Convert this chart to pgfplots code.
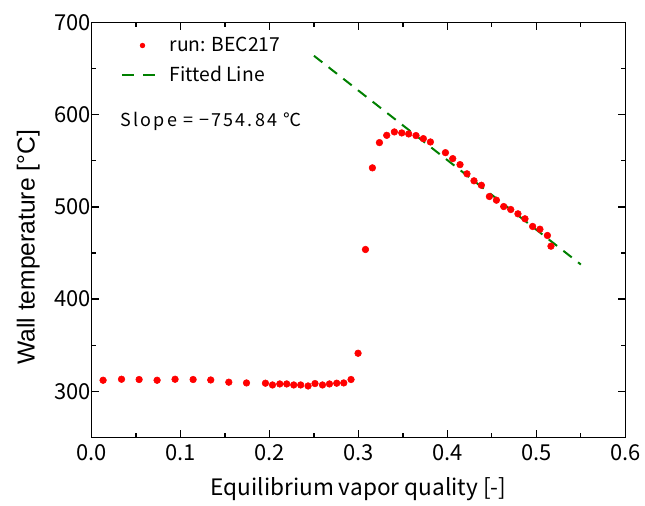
\documentclass[border=0pt]{standalone}
\usepackage{pgfplots}
\pgfplotsset{compat=1.18}
\usepackage{fontspec}
\setmainfont{Noto Sans CJK JP}
\newfontfamily\labelfont{Liberation Sans}
\newfontfamily\slopefont[LetterSpace=12]{Noto Sans CJK JP}
\definecolor{fitgreen}{RGB}{0,128,0}
\begin{document}
\begin{tikzpicture}
\begin{axis}[
  scale only axis,
  width=401.25pt, height=311.7pt,
  xmin=0, xmax=0.6, ymin=250, ymax=700,
  xtick={0,0.1,...,0.6},
  xticklabels={0.0,0.1,0.2,0.3,0.4,0.5,0.6},
  ytick={300,400,500,600,700},
  minor xtick={0.05,0.15,...,0.55},
  minor ytick={350,450,550,650},
  xtick pos=both, ytick pos=both,
  tick align=inside,
  major tick length=5.5pt,
  minor tick length=3pt,
  axis line style={line width=1pt},
  every tick/.style={black, line width=0.9pt},
  /pgf/number format/assume math mode=true,
  tick label style={font=\fontsize{16.5}{19}\selectfont},
  xticklabel style={yshift=-2pt},
  yticklabel style={xshift=3pt},
  xlabel={Equilibrium vapor quality [-]},
  ylabel={\labelfont Wall temperature [°C]},
  xlabel style={font=\fontsize{17}{20}\selectfont, yshift=-6pt},
  ylabel style={font=\fontsize{18.5}{22}\selectfont, at={(ticklabel cs:0.458)}, yshift=4pt},
  legend style={draw=none, fill=none, at={(0.047,0.978)}, anchor=north west,
    font=\fontsize{14.5}{17}\selectfont, row sep=5.5pt},
  legend cell align=left,
]
\addplot[only marks, mark=*, mark size=2.5pt, color=red, mark options={draw=red, fill=red},
  legend image code/.code={\path[draw=none,fill=none] (0pt,0pt) rectangle (34pt,0.1pt); \fill[red] (15.5pt,0pt) circle (1.8pt);}] coordinates {
(0.0130,311.9) (0.0337,313.0) (0.0535,312.7) (0.0737,311.9) (0.0939,313.0)
(0.1142,312.7) (0.1340,312.2) (0.1543,309.8) (0.1742,309.0) (0.1955,308.7)
(0.2034,306.8) (0.2116,307.9) (0.2194,307.9) (0.2273,306.8) (0.2351,306.8)
(0.2434,305.7) (0.2512,308.3) (0.2596,306.8) (0.2674,307.9) (0.2756,308.7)
(0.2835,309.0) (0.2917,312.7) (0.2996,341.2)
(0.3079,453.8) (0.3157,542.4) (0.3236,569.8) (0.3318,577.7) (0.3404,581.4)
(0.3487,580.3) (0.3565,579.2) (0.3647,577.4) (0.3730,574.1) (0.3809,570.5)
(0.3978,558.9) (0.4060,552.4) (0.4142,545.9) (0.4220,535.9) (0.4299,528.3)
(0.4382,523.5) (0.4472,511.3) (0.4551,507.3) (0.4633,500.4) (0.4712,497.2)
(0.4793,492.5) (0.4872,487.1) (0.4958,478.8) (0.5040,475.8) (0.5124,469.0)
(0.5164,457.4)
};
\addlegendentry{run: BEC217}
\addplot[color=fitgreen, line width=1.5pt, dash pattern=on 8pt off 6pt,
  legend image code/.code={\path[draw=none,fill=none] (0pt,0pt) rectangle (34pt,0.1pt); \draw[fitgreen, line width=1.5pt, dash pattern=on 9pt off 7pt] (0pt,0pt) -- (25pt,0pt);}] coordinates {
(0.25,664.0) (0.55,437.5)
};
\addlegendentry{Fitted Line}
\node[anchor=west, inner sep=0pt, font=\slopefont\fontsize{13.5}{16}\selectfont] at (axis cs:0.0326,593) {Slope = −754.84 ℃};
\end{axis}
\useasboundingbox ([shift={(-68.8pt,-51.5pt)}]current axis.south west) rectangle ([shift={(13.7pt,17pt)}]current axis.north east);
\end{tikzpicture}
\end{document}
